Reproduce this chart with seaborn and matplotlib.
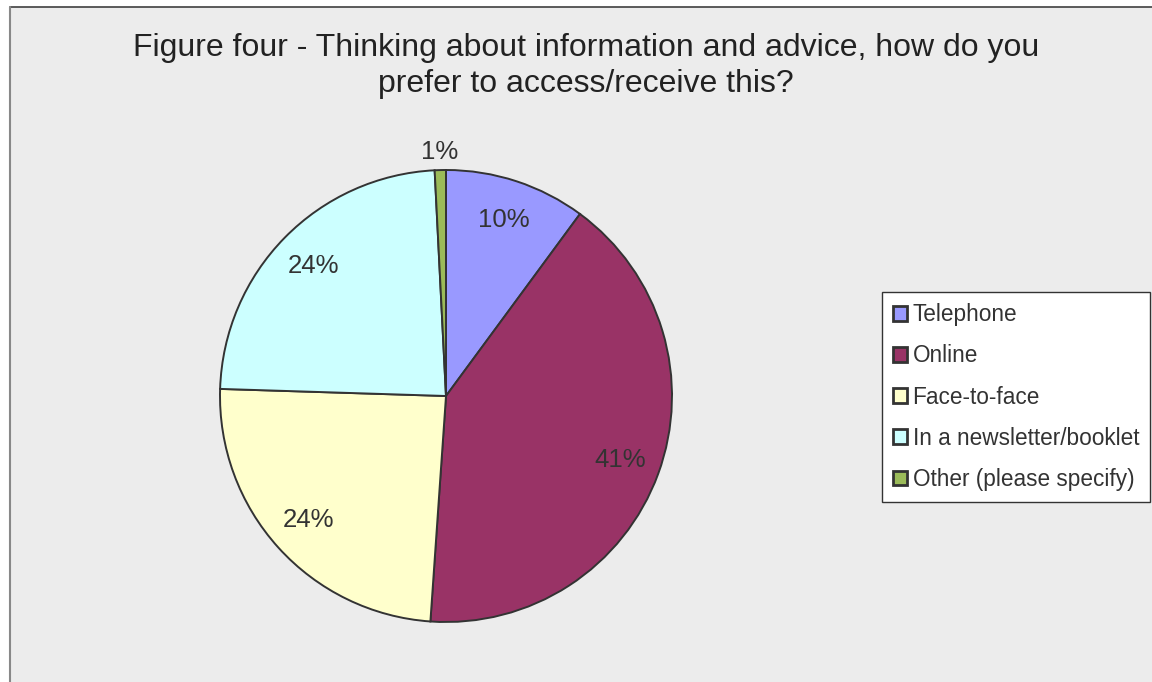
import matplotlib
matplotlib.use("Agg")
import matplotlib.pyplot as plt
import seaborn as sns
import numpy as np
from matplotlib.patches import Rectangle
from matplotlib.lines import Line2D

categories = ["Telephone", "Online", "Face-to-face", "In a newsletter/booklet", "Other (please specify)"]
values = [10.1, 41.0, 24.4, 23.7, 0.8]
pct_labels = ["10%", "41%", "24%", "24%", "1%"]
colors_hex = ["#9999FF", "#993366", "#FFFFCC", "#CCFFFF", "#9BBB59"]
title = "Figure four - Thinking about information and advice, how do you\nprefer to access/receive this?"

sns.set_theme(style="white")
plt.rcParams['font.family'] = ['Liberation Sans', 'DejaVu Sans']

W, H = 1152, 682
fig = plt.figure(figsize=(W / 100, H / 100), dpi=100)
fig.patch.set_facecolor("white")

# chart area background
bg = Rectangle((10 / W, 0), 1.0, (H - 7) / H, transform=fig.transFigure,
               facecolor="#ECECEC", edgecolor="none", zorder=0)
fig.add_artist(bg)
fig.add_artist(Line2D([10 / W, 1.0], [(H - 7) / H] * 2, transform=fig.transFigure,
                      color="#404040", lw=1.2))
fig.add_artist(Line2D([10 / W] * 2, [0, (H - 7) / H], transform=fig.transFigure,
                      color="#888888", lw=1.5))

cx, cy, r = 446, 396, 226
ax = fig.add_axes([(cx - r) / W, (H - cy - r) / H, 2 * r / W, 2 * r / H])
ax.set_facecolor("none")
palette = sns.color_palette(colors_hex)

wedges, texts = ax.pie(values, colors=palette, startangle=90, counterclock=False,
                       radius=1.0,
                       wedgeprops=dict(edgecolor="#333333", linewidth=1.4))
ax.set_xlim(-1, 1)
ax.set_ylim(-1, 1)
ax.set_aspect("equal")
ax.axis("off")

for w, lab, v in zip(wedges, pct_labels, values):
    ang = np.deg2rad((w.theta1 + w.theta2) / 2)
    d = 0.82 if v > 3 else 1.08
    ax.text(d * np.cos(ang), d * np.sin(ang), lab, ha="center", va="center",
            fontsize=18.5, color="#333333")

fig.text(0.5 * (135 + 1037) / W, 1 - 66 / H, title, ha="center", va="center",
         fontsize=23, color="#222222", linespacing=1.25)

leg = fig.legend(wedges, categories, loc="upper left",
                 bbox_to_anchor=(882 / W, (H - 292) / H),
                 bbox_transform=fig.transFigure, frameon=True, fancybox=False,
                 framealpha=1.0,
                 fontsize=16.3, handlelength=0.6, handleheight=0.6, handletextpad=0.25,
                 labelspacing=0.80, borderpad=0.5, borderaxespad=0)
leg.get_frame().set_edgecolor("#333333")
leg.get_frame().set_facecolor("white")
leg.get_frame().set_linewidth(1.0)
for t in leg.get_texts():
    t.set_color("#333333")
for h in leg.legend_handles:
    h.set_linewidth(2.0)

fig.savefig("out.png", dpi=100)
